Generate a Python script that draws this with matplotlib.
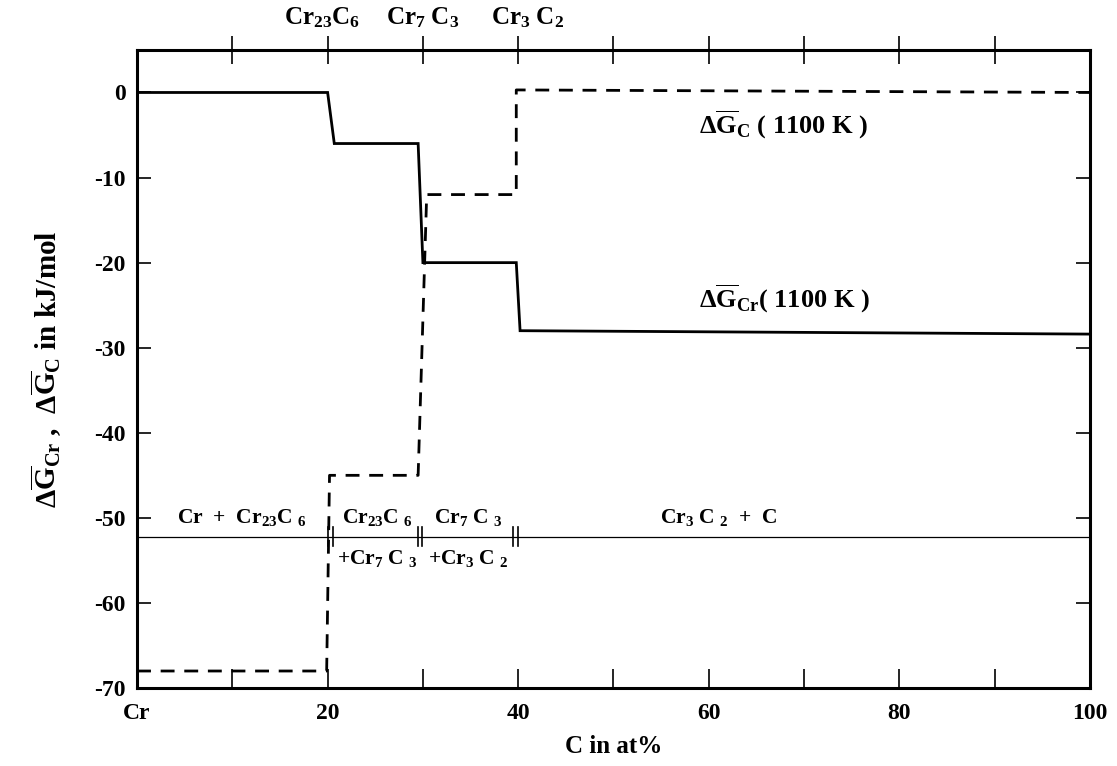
import matplotlib
matplotlib.use("Agg")
import matplotlib.pyplot as plt
from matplotlib.transforms import offset_copy

plt.rcParams['font.family'] = ['Liberation Serif', 'DejaVu Serif']
plt.rcParams['font.weight'] = 'bold'
plt.rcParams['mathtext.fontset'] = 'custom'
plt.rcParams['mathtext.rm'] = 'Liberation Serif:bold'
plt.rcParams['mathtext.it'] = 'Liberation Serif:bold'
plt.rcParams['mathtext.bf'] = 'Liberation Serif:bold'
plt.rcParams['axes.unicode_minus'] = False

# Data
x_gcr = [0, 20, 20.7, 29.5, 30, 39.8, 40.2, 100]
g_cr = [0, 0, -6, -6, -20, -20, -28, -28.4]
x_gc = [0, 19.9, 20.2, 29.5, 30.4, 39.8, 39.8, 100]
g_c = [-68, -68, -45, -45, -12, -12, 0.3, 0]
phase_y = -52.2
phase_bounds = [20.3, 29.7, 39.7]
xticks_major = [0, 20, 40, 60, 80, 100]
xtick_labels = ['Cr', '20', '40', '60', '80', '100']
yticks = [0, -10, -20, -30, -40, -50, -60, -70]
top_label_x = [19.4, 30.0, 41.0]
top_labels = [r'Cr$_{23}$C$_6$', r'Cr$_7$ C$_3$', r'Cr$_3$ C$_2$']

GCR = r'$\Delta\overline{\mathrm{G}}_{\mathrm{Cr}}$'
GC = r'$\Delta\overline{\mathrm{G}}_{\mathrm{C}}$'

fig = plt.figure(figsize=(11.17, 7.66), dpi=100)
ax = fig.add_axes([0.1227, 0.1018, 0.853, 0.833])

ax.plot(x_gcr, g_cr, color='black', lw=2.0, solid_joinstyle='miter')
ax.plot(x_gc, g_c, color='black', lw=2.0, linestyle=(0, (5, 3.5)))
ax.plot([0, 100], [phase_y, phase_y], color='black', lw=0.9)
for b in phase_bounds:
    for d in (-0.25, 0.25):
        ax.plot([b + d, b + d], [phase_y - 1.1, phase_y + 1.1], color='black', lw=1.2)

ax.set_xlim(0, 100)
ax.set_ylim(-70, 5)
ax.set_xticks(xticks_major)
ax.set_xticklabels(xtick_labels)
ax.set_xticks(range(10, 100, 20), minor=True)
ax.set_yticks(yticks)
ax.set_yticklabels([str(v) for v in yticks])

for s in ax.spines.values():
    s.set_linewidth(2.2)

ax.tick_params(axis='x', which='both', direction='in', length=14, width=1.2,
               bottom=True, top=False, labelsize=17, pad=11)
ax.tick_params(axis='y', which='major', direction='in', length=10, width=1.2,
               left=True, right=True, labelsize=17, pad=8)

# top ticks
axt = ax.twiny()
axt.set_xlim(0, 100)
axt.set_xticks(range(10, 100, 10))
axt.set_xticklabels([])
axt.tick_params(axis='x', direction='inout', length=20, width=1.2)
for s in axt.spines.values():
    s.set_visible(False)

top_tr = offset_copy(ax.get_xaxis_transform(), fig=fig, x=0, y=14, units='points')
for xv, lab in zip(top_label_x, top_labels):
    ax.text(xv, 1.0, lab, transform=top_tr, fontsize=18, ha='center', va='bottom')

ax.set_xlabel('C in at%', fontsize=18, fontweight='bold', labelpad=8)
ax.set_ylabel(GCR + ' ,  ' + GC + ' in kJ/mol', fontsize=21, fontweight='bold', labelpad=22)

ax.text(59, -3.8, GC + ' ( 1100 K )', fontsize=19, va='center')
ax.text(59, -24.3, GCR + '( 1100 K )', fontsize=19, va='center')

fs = 15.5
ax.text(11, phase_y + 2.2, r'Cr  +  Cr$_{23}$C $_6$', fontsize=fs, ha='center', va='center')
ax.text(25.2, phase_y + 2.2, r'Cr$_{23}$C $_6$', fontsize=fs, ha='center', va='center')
ax.text(25.2, phase_y - 2.6, r'+Cr$_7$ C $_3$', fontsize=fs, ha='center', va='center')
ax.text(34.8, phase_y + 2.2, r'Cr$_7$ C $_3$', fontsize=fs, ha='center', va='center')
ax.text(34.8, phase_y - 2.6, r'+Cr$_3$ C $_2$', fontsize=fs, ha='center', va='center')
ax.text(61, phase_y + 2.2, r'Cr$_3$ C $_2$  +  C', fontsize=fs, ha='center', va='center')

fig.savefig('out.png', dpi=100)
